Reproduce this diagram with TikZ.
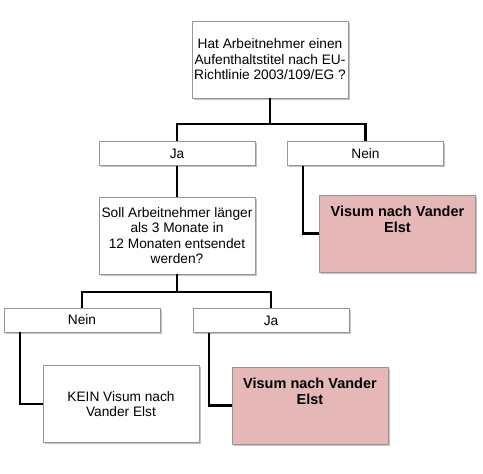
\documentclass[tikz,border=0pt]{standalone}
\usepackage{fontspec}
\setmainfont{Liberation Sans}
\usetikzlibrary{shadows}
\definecolor{VisumClr}{RGB}{230,183,183}
\definecolor{RandClr}{RGB}{150,150,150}

\tikzset{
  box/.style={draw=RandClr, line width=.7pt, fill=white, minimum width=156pt, inner sep=0pt,
    align=center, font=\fontsize{13.7}{15.5}\selectfont,
    drop shadow={shadow xshift=1.5pt, shadow yshift=-1.5pt, fill=black!40, opacity=.6}},
  bigbox/.style={box, minimum height=77pt},
  smallbox/.style={box, minimum height=24pt},
  visumbox/.style={bigbox, fill=VisumClr},
  visumtext/.style={anchor=north, inner sep=0pt, align=center, yshift=-11pt,
    font=\fontsize{14.5}{16}\selectfont\bfseries},
  conn/.style={line width=2.2pt, black}
}

\begin{document}
\begin{tikzpicture}[x=1pt,y=-1pt]
\useasboundingbox (0,0) rectangle (483,474);

% erste Frage
\node[bigbox] (titel) at (270,59.5) {Hat Arbeitnehmer einen\\Aufenthaltstitel nach EU-\\Richtlinie 2003/109/EG ?};
\node[smallbox] (ja) at (177,153.5) {Ja};
\node[smallbox] (nein) at (365.5,153.5) {Nein};
\node[visumbox] (visumA) at (397.5,233.5) {};
\node[visumtext] (visumAtext) at (visumA.north) {Visum nach Vander\\Elst};

% zweite Frage
\node[bigbox] (frage) at (177,235.5) {Soll Arbeitnehmer l\"anger\\als 3 Monate in\\12 Monaten entsendet\\werden?};
\node[smallbox] (neinB) at (82,320) {Nein};
\node[smallbox] (jaB) at (271,320.5) {Ja};
\node[bigbox] (kein) at (121,404) {KEIN Visum nach\\Vander Elst};
\node[visumbox] (visumB) at (310,405.5) {};
\node[visumtext] (visumBtext) at (visumB.north) {Visum nach Vander\\Elst};

\coordinate (teil1) at (270,124);
\coordinate (teil2) at (177,292);

\draw[conn] (titel.south) -- (teil1) -| (ja.north);
\draw[conn] (teil1) -| (nein.north);
\draw[conn] (ja.south) -- (frage.north);
\draw[conn] ([xshift=16pt]nein.south west) |- (visumA.west);

\draw[conn] (frage.south) -- (teil2) -| (neinB.north);
\draw[conn] (teil2) -| (jaB.north);
\draw[conn] ([xshift=16pt]neinB.south west) |- (kein.west);
\draw[conn] ([xshift=16pt]jaB.south west) |- (visumB.west);

\end{tikzpicture}
\end{document}
